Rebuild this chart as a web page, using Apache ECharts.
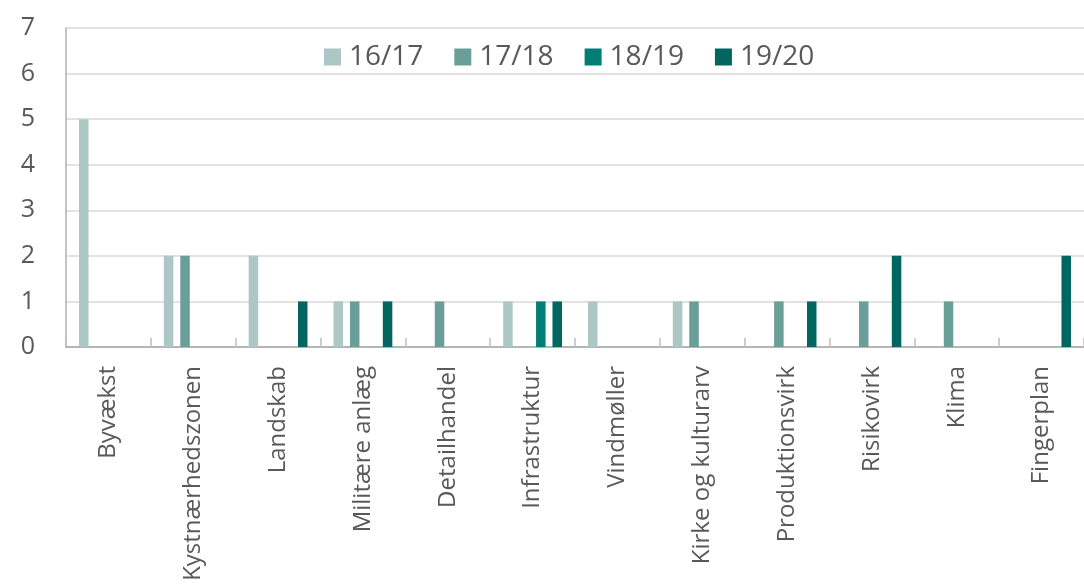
<!DOCTYPE html>
<html>
<head>
<meta charset="utf-8">
<script src="https://cdn.jsdelivr.net/npm/echarts@6/dist/echarts.min.js"></script>
<style>
  html, body { margin: 0; padding: 0; background: #fff; }
  #chart { width: 1084px; height: 585px; }
</style>
</head>
<body>
<div id="chart"></div>
<script>
const categories = ['Byvækst', 'Kystnærhedszonen', 'Landskab', 'Militære anlæg', 'Detailhandel',
  'Infrastruktur', 'Vindmøller', 'Kirke og kulturarv', 'Produktionsvirk', 'Risikovirk', 'Klima', 'Fingerplan'];
const seriesNames = ['16/17', '17/18', '18/19', '19/20'];
const v1617 = [5, 2, 2, 1, 0, 1, 1, 1, 0, 0, 0, 0];
const v1718 = [0, 2, 0, 1, 1, 0, 0, 1, 1, 1, 1, 0];
const v1819 = [0, 0, 0, 0, 0, 1, 0, 0, 0, 0, 0, 0];
const v1920 = [0, 0, 1, 1, 0, 1, 0, 0, 1, 2, 0, 2];
const colors = ['#adc7c4', '#6a9e98', '#007d74', '#00665f'];

const font = '"Open Sans", "Noto Sans", sans-serif';
const chart = echarts.init(document.getElementById('chart'));
const values = [v1617, v1718, v1819, v1920];

chart.setOption({
  animation: false,
  textStyle: { fontFamily: font },
  legend: {
    data: seriesNames,
    top: 41,
    left: 318,
    itemWidth: 17,
    itemHeight: 17,
    itemGap: 31,
    icon: 'rect',
    backgroundColor: '#fff',
    padding: [2, 6],
    textStyle: { fontSize: 28, color: '#595959', fontFamily: font, padding: [0, 0, 0, 3] }
  },
  grid: { left: 66, right: -4, top: 28, bottom: 238, containLabel: false },
  xAxis: {
    type: 'category',
    data: categories,
    axisLine: { lineStyle: { color: '#a6a6a6', width: 1.5 } },
    axisTick: { show: true, inside: true, length: 9, lineStyle: { color: '#bfbfbf', width: 1.5 } },
    // a bit of top padding nudges the rotated labels to the right
    axisLabel: { rotate: 90, fontSize: 24, color: '#595959', margin: 19, fontFamily: font, interval: 0, padding: [8, 0, 0, 0] }
  },
  yAxis: {
    type: 'value',
    min: 0,
    max: 7,
    interval: 1,
    axisLine: { show: true, lineStyle: { color: '#b0b0b0', width: 1.5 } },
    axisTick: { show: false },
    splitLine: { lineStyle: { color: '#d9d9d9', width: 1.5 } },
    axisLabel: { fontSize: 25, color: '#595959', margin: 31, fontFamily: font }
  },
  series: seriesNames.map((name, i) => ({
    name: name,
    type: 'bar',
    data: values[i],
    barWidth: 9.5,
    barGap: '73%',
    barCategoryGap: '30%',
    itemStyle: { color: colors[i] }
  }))
});
</script>
</body>
</html>
